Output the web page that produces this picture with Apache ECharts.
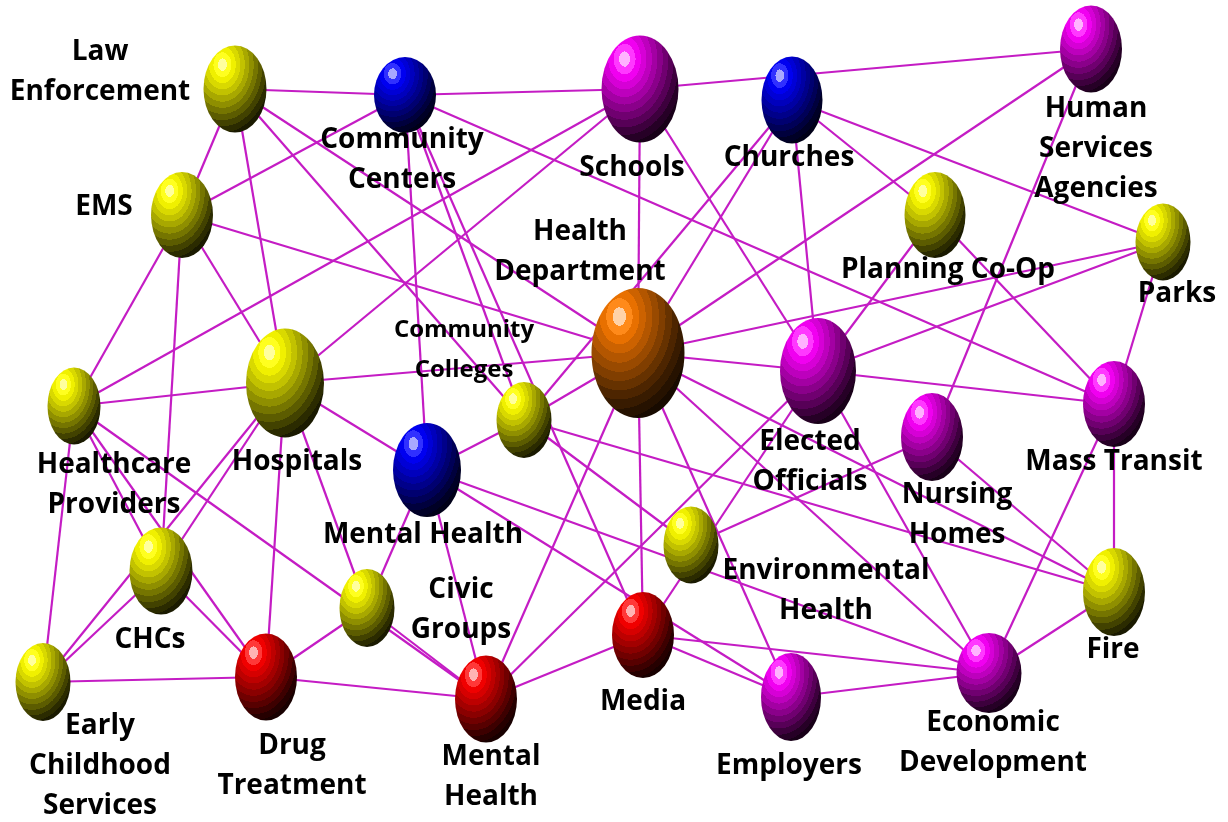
<!DOCTYPE html>
<html>
<head>
<meta charset="utf-8">
<script src="https://cdn.jsdelivr.net/npm/echarts@6/dist/echarts.min.js"></script>
<style>
  html, body { margin: 0; padding: 0; background: #fff; }
  #chart { width: 1228px; height: 822px; }
</style>
</head>
<body>
<div id="chart"></div>
<script>
// node labels, in drawing order
var labels = [
  'Law\nEnforcement', 'Community\nCenters', 'Schools', 'Churches', 'Human\nServices\nAgencies',
  'EMS', 'Planning Co-Op', 'Parks', 'Health\nDepartment', 'Community\nColleges',
  'Hospitals', 'Healthcare\nProviders', 'Elected\nOfficials', 'Nursing\nHomes', 'Mass Transit',
  'Mental Health', 'Environmental\nHealth', 'CHCs', 'Civic\nGroups', 'Fire',
  'Early\nChildhood\nServices', 'Drug\nTreatment', 'Mental\nHealth', 'Media', 'Employers',
  'Economic\nDevelopment'
];
// node layout in the diagram's own units
var nodeX = [235, 405, 640, 792, 1091, 182, 935, 1163, 638, 524, 285, 74, 818, 932, 1114, 427, 691, 161, 367, 1114, 43, 266, 486, 643, 791, 989];
var nodeY = [89, 95, 89, 100, 49, 215, 215, 242, 353, 420, 383, 406, 371, 437, 404, 470, 545, 571, 608, 592, 682, 677, 699, 635, 697, 673];
// node kind -> colour family
var kinds = ['yellow', 'blue', 'magenta', 'blue', 'magenta', 'yellow', 'yellow', 'yellow', 'orange', 'yellow',
  'yellow', 'yellow', 'magenta', 'magenta', 'magenta', 'blue', 'yellow', 'yellow', 'yellow', 'yellow',
  'yellow', 'red', 'red', 'red', 'magenta', 'magenta'];
// connections (node index pairs)
var links = [
  [0, 1], [0, 5], [0, 10], [0, 9], [0, 8],
  [1, 5], [1, 2], [1, 14], [1, 15], [1, 9], [1, 23],
  [2, 4], [2, 11], [2, 10], [2, 8], [2, 12],
  [3, 9], [3, 8], [3, 12], [3, 6], [3, 7],
  [4, 8], [4, 13],
  [5, 8], [5, 11], [5, 10], [5, 17],
  [6, 12], [6, 14],
  [7, 8], [7, 12], [7, 14],
  [8, 9], [8, 10], [8, 12], [8, 22], [8, 23], [8, 24], [8, 25], [8, 19],
  [9, 15], [9, 19], [9, 16],
  [10, 11], [10, 15], [10, 18], [10, 21], [10, 17], [10, 20],
  [11, 20], [11, 21], [11, 22], [11, 17],
  [12, 14], [12, 23], [12, 22], [12, 25],
  [13, 16], [13, 19],
  [14, 19], [14, 25],
  [15, 25], [15, 24], [15, 22], [15, 18],
  [17, 21], [17, 20],
  [18, 21], [18, 22],
  [19, 25],
  [20, 21],
  [21, 22],
  [22, 23],
  [23, 25], [23, 24],
  [24, 25]
];

// ---- styling ----
var nodeSize = [[63, 87], [62, 76], [77, 107], [61, 87], [62, 87], [62, 86], [61, 86], [55, 77], [93, 130], [55, 76],
  [78, 109], [53, 77], [76, 106], [62, 88], [62, 86], [68, 94], [55, 77], [63, 87], [55, 78], [62, 88],
  [55, 78], [62, 87], [62, 87], [62, 86], [60, 88], [65, 80]];
var labelOffset = [[-135, -17], [-3, 65], [-8, 79], [-3, 58], [5, 100], [-78, -8], [13, 55], [14, 52], [-58, -101], [-60, -70],
  [12, 79], [40, 79], [-8, 91], [25, 78], [0, 58], [-4, 65], [135, 46], [-11, 69], [94, 2], [-1, 58],
  [57, 84], [26, 89], [5, 78], [0, 67], [-2, 69], [4, 70]];

var bands = {
  yellow: ['#ffff9e', '#ffff1f', '#f0f000', '#d9d900', '#c2c200', '#a8a800', '#8f8f00', '#757500', '#5c5c00', '#424200', '#2b2b00', '#1a1a00'],
  blue: ['#a8a8ff', '#3030ff', '#0000f0', '#0000d6', '#0000bd', '#0000a3', '#00008a', '#000070', '#000057', '#00003d', '#000026', '#000018'],
  magenta: ['#ffb3ff', '#ff38ff', '#f000f0', '#d600d6', '#bd00bd', '#a300a3', '#8a008a', '#700070', '#570057', '#3d003d', '#260026', '#180018'],
  red: ['#ffb3b3', '#ff3838', '#f00000', '#d60000', '#bd0000', '#a30000', '#8a0000', '#700000', '#570000', '#3d0000', '#260000', '#180000'],
  orange: ['#ffd2a8', '#ff8a1a', '#e87000', '#cc6200', '#b35600', '#994a00', '#803e00', '#663200', '#4d2500', '#381b00', '#261200', '#180b00']
};

function ball(kind) {
  var c = bands[kind], stops = [], n = c.length;
  for (var i = 0; i < n; i++) {
    stops.push({ offset: i / n, color: c[i] });
    stops.push({ offset: (i + 1) / n, color: c[i] });
  }
  return { type: 'radial', x: 0.3, y: 0.22, r: 0.85, colorStops: stops };
}

var nodes = labels.map(function (t, i) {
  return {
    name: 'n' + i,
    value: [nodeX[i], nodeY[i]],
    symbolSize: nodeSize[i],
    itemStyle: { color: ball(kinds[i]) },
    label: { offset: labelOffset[i], fontSize: i === 9 ? 24 : 28 }
  };
});

var chart = echarts.init(document.getElementById('chart'));
chart.setOption({
  backgroundColor: '#fff',
  animation: false,
  grid: { left: 0, right: 0, top: 0, bottom: 0 },
  xAxis: { type: 'value', min: 0, max: 1228, show: false },
  yAxis: { type: 'value', min: 0, max: 822, inverse: true, show: false },
  series: [{
    type: 'graph',
    coordinateSystem: 'cartesian2d',
    symbol: 'circle',
    data: nodes,
    links: links.map(function (l) { return { source: l[0], target: l[1] }; }),
    lineStyle: { color: '#c41cc4', width: 2.2, opacity: 1, curveness: 0 },
    label: {
      show: true,
      position: 'inside',
      align: 'center',
      verticalAlign: 'middle',
      color: '#000',
      fontFamily: 'Open Sans',
      fontWeight: 'bold',
      fontSize: 28,
      lineHeight: 40,
      formatter: function (p) { return labels[p.dataIndex]; }
    },
    emphasis: { disabled: true }
  }]
});
</script>
</body>
</html>
